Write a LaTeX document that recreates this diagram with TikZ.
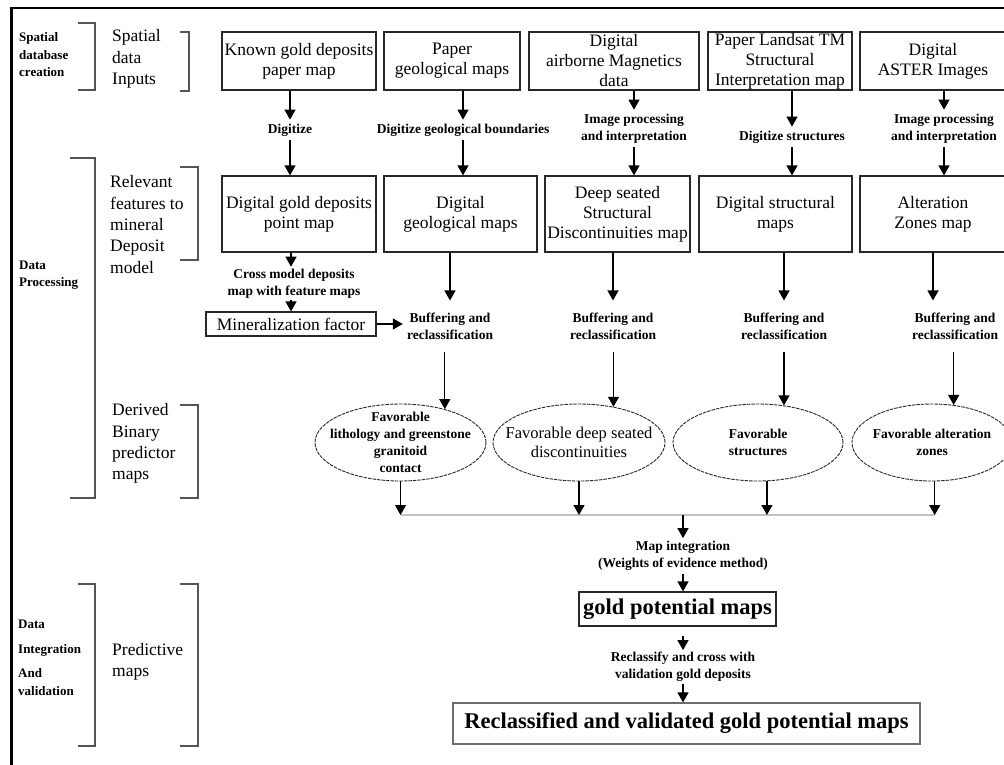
\documentclass[tikz,border=0pt]{standalone}
\usepackage{fontspec}
\setmainfont{Liberation Serif}
\usepackage{xcolor}
\definecolor{boxline}{RGB}{40, 40, 40}
\definecolor{lightbox}{RGB}{110, 110, 110}
\definecolor{brackline}{RGB}{85, 85, 85}
\definecolor{busgray}{RGB}{195, 195, 195}
\usepackage{tikz}
\usetikzlibrary{shapes.geometric, arrows.meta}

\newcommand{\boxfont}{\fontsize{17.5}{20}\selectfont}
\newcommand{\sidefont}{\fontsize{17.5}{21.3}\selectfont}
\newcommand{\labfont}{\fontsize{13.5}{17}\selectfont\bfseries}
\newcommand{\bigfont}{\fontsize{22.5}{26}\selectfont\bfseries}

\begin{document}
\begin{tikzpicture}[x=1pt, y=-1pt]

  \tikzstyle{inbox} = [
    draw=boxline, line width=1.2pt,
    minimum height=58pt, inner sep=1pt,
    align=center, font=\boxfont
  ]
  \tikzstyle{mapbox} = [inbox, minimum height=76pt]
  \tikzstyle{steplabel} = [inner sep=4pt, align=center, font=\labfont]
  \tikzstyle{favell} = [
    ellipse, draw=boxline, line width=0.9pt, dash pattern=on 3.5pt off 1pt,
    minimum height=77pt, inner sep=0pt
  ]
  \tikzstyle{favtext} = [inner sep=0pt, align=center, font=\labfont]
  \tikzstyle{sidetext} = [anchor=west, inner sep=0pt, align=left, font=\sidefont]
  \tikzstyle{sidehead} = [anchor=west, inner sep=0pt, align=left,
    font=\fontsize{13}{17.5}\selectfont\bfseries]
  \tikzstyle{flowarrow} = [-{Triangle[width=11pt,length=10pt]}, line width=1.2pt]
  \tikzstyle{bracket} = [draw=brackline, line width=1.3pt]
  \tikzstyle{busline} = [draw=busgray, line width=1.6pt]

  \useasboundingbox (0,0) rectangle (1004,764);
  \clip (0,0) rectangle (1004,764);

  % frame
  \draw[line width=2.6pt] (11.5,8) rectangle (1020,780);

  % stage brackets
  \draw[bracket] (78,23) -- (95,23) -- (95,90) -- (78,90);
  \draw[bracket] (180,32) -- (189,32) -- (189,91) -- (180,91);
  \draw[bracket] (70,158) -- (95,158) -- (95,498) -- (70,498);
  \draw[bracket] (180,167) -- (198,167) -- (198,260) -- (180,260);
  \draw[bracket] (180,405) -- (198,405) -- (198,498) -- (180,498);
  \draw[bracket] (78,584) -- (95,584) -- (95,746) -- (78,746);
  \draw[bracket] (180,584) -- (198,584) -- (198,746) -- (180,746);

  \node[sidehead] (sdc) at (19,55) {Spatial\\database\\creation};
  \node[sidetext] (sdi) at (112,59) {Spatial\\data\\Inputs};
  \node[sidehead] (dp) at (19,275) {Data\\Processing};
  \node[sidetext] (rf) at (110,224.5) {Relevant\\features to\\mineral\\Deposit\\model};
  \node[sidetext] (dbp) at (112,443.5) {Derived\\Binary\\predictor\\maps};
  \node[sidehead] (div) at (18,658) {Data\\[7pt]Integration\\[7pt]And\\validation};
  \node[sidetext] (pm) at (112,662) {Predictive\\maps};

  % spatial data inputs
  \node[inbox, minimum width=154pt] (b1) at (299,61) {Known gold deposits\\paper map};
  \node[inbox, minimum width=136pt] (b2) at (452,61) {Paper\\geological maps};
  \node[inbox, minimum width=170pt] (b3) at (614,61) {Digital\\airborne Magnetics\\data};
  \node[inbox, minimum width=144pt] (b4) at (780,61) {Paper Landsat TM\\Structural\\Interpretation map};
  \node[inbox, minimum width=146pt] (b5) at (933,61) {Digital\\ASTER Images};

  \node[steplabel] (dz) at (290,130) {Digitize};
  \node[steplabel] (dg) at (463,130) {Digitize geological boundaries};
  \node[steplabel] (ip3) at (634,128.5) {Image processing\\and interpretation};
  \node[steplabel] (ds) at (792,137) {Digitize structures};
  \node[steplabel] (ip5) at (944,128.5) {Image processing\\and interpretation};

  % relevant features
  \node[mapbox, minimum width=154pt] (c1) at (299,214) {Digital gold deposits\\point map};
  \node[mapbox, minimum width=153pt] (c2) at (460.5,214) {Digital\\geological maps};
  \node[mapbox, minimum width=145pt] (c3) at (617.5,214) {Deep seated\\Structural\\Discontinuities map};
  \node[mapbox, minimum width=153pt] (c4) at (775.5,214) {Digital structural\\maps};
  \node[mapbox, minimum width=146pt] (c5) at (933,214) {Alteration\\Zones map};

  \draw[flowarrow] (b1.south -| dz.north) -- (dz.north);
  \draw[flowarrow] (dz.south) -- (dz.south |- c1.north);
  \draw[flowarrow] (b2.south -| dg.north) -- (dg.north);
  \draw[flowarrow] (dg.south) -- (dg.south |- c2.north);
  \draw[flowarrow] (b3.south -| ip3.north) -- (ip3.north);
  \draw[flowarrow] (ip3.south) -- (ip3.south |- c3.north);
  \draw[flowarrow] (b4.south -| ds.north) -- (ds.north);
  \draw[flowarrow] (ds.south) -- (ds.south |- c4.north);
  \draw[flowarrow] (b5.south -| ip5.north) -- (ip5.north);
  \draw[flowarrow] (ip5.south) -- (ip5.south |- c5.north);

  \node[steplabel, inner sep=2pt] (cm) at (294,283.5) {Cross model deposits\\map with feature maps};
  \node[inbox, minimum width=170pt, minimum height=24pt] (mf) at (291,324) {Mineralization factor};

  \node[steplabel, inner ysep=12pt] (bf1) at (450,326) {Buffering and\\reclassification};
  \node[steplabel, inner ysep=12pt] (bf2) at (613,326) {Buffering and\\reclassification};
  \node[steplabel, inner ysep=12pt] (bf3) at (784,326) {Buffering and\\reclassification};
  \node[steplabel, inner ysep=12pt] (bf4) at (955,326) {Buffering and\\reclassification};

  \draw[flowarrow] (c1.south -| mf.north) -- (cm.north -| mf.north);
  \draw[flowarrow] (cm.south -| mf.north) -- (mf.north);
  \draw[flowarrow] (mf.east) -- (mf.east -| bf1.west);
  \draw[flowarrow] (c2.south -| bf1.north) -- (bf1.north);
  \draw[flowarrow] (c3.south -| bf2.north) -- (bf2.north);
  \draw[flowarrow] (c4.south -| bf3.north) -- (bf3.north);
  \draw[flowarrow] (c5.south) -- (c5.south |- bf4.north);

  % binary predictor maps
  \node[favell, minimum width=171pt] (e1) at (400.5,442.5) {};
  \node[favell, minimum width=172pt] (e2) at (579,442.5) {};
  \node[favell, minimum width=170pt] (e3) at (758,442.5) {};
  \node[favell, minimum width=160pt] (e4) at (932,442.5) {};

  \node[favtext] (t1) at (e1) {Favorable\\lithology and greenstone\\granitoid\\contact};
  \node[favtext, font=\fontsize{16.5}{19}\selectfont] (t2) at (e2) {Favorable deep seated\\discontinuities};
  \node[favtext] (t3) at (e3) {Favorable\\structures};
  \node[favtext] (t4) at (e4) {Favorable alteration\\zones};

  \draw[flowarrow] (bf1.south -| e1.37) -- (e1.37);
  \draw[flowarrow] (bf2.south -| e2.46) -- (e2.46);
  \draw[flowarrow] (bf3.south -| e3.55) -- (e3.55);
  \draw[flowarrow] (bf4.south -| e4.60) -- (e4.60);

  \coordinate (bus) at (683,515);
  \coordinate (j1) at (e1.south |- bus);
  \coordinate (j2) at (e2.south |- bus);
  \coordinate (j3) at (e3.-77 |- bus);
  \coordinate (j4) at (e4.-86 |- bus);
  \draw[busline] (j1) -- (j4);
  \draw[flowarrow] (e1.south) -- (j1);
  \draw[flowarrow] (e2.south) -- (j2);
  \draw[flowarrow] (e3.-77) -- (j3);
  \draw[flowarrow] (e4.-86) -- (j4);

  % predictive maps
  \node[steplabel, inner sep=3pt] (mi) at (683,556) {Map integration\\(Weights of evidence method)};
  \node[inbox, minimum width=197pt, minimum height=34pt, font=\bigfont] (gp) at (677.5,609) {gold potential maps};
  \node[steplabel, inner sep=2pt] (rc) at (683,667) {Reclassify and cross with\\validation gold deposits};
  \node[inbox, draw=lightbox, minimum width=467pt, minimum height=41pt, font=\bigfont] (fb) at (686.5,723.5) {Reclassified and validated gold potential maps};

  \draw[flowarrow] (bus) -- (mi.north);
  \draw[flowarrow] (mi.south) -- (mi.south |- gp.north);
  \draw[flowarrow, shorten <=9pt] (gp.south -| rc.north) -- (rc.north);
  \draw[flowarrow] (rc.south) -- (rc.south |- fb.north);

\end{tikzpicture}
\end{document}
